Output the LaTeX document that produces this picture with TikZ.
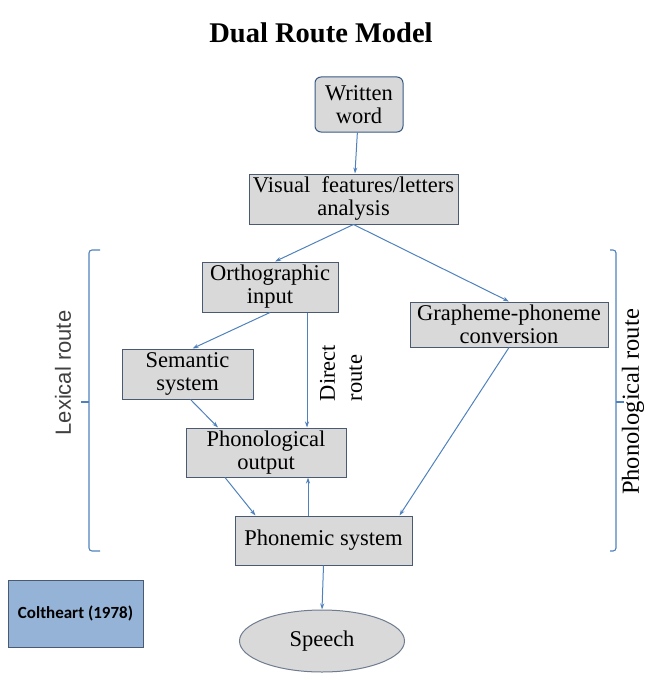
\documentclass[tikz,border=0pt]{standalone}
\usepackage{fontspec}
\setmainfont{Liberation Serif}
\newfontfamily\arialfont{Liberation Sans}
\newfontfamily\calibrifont{Carlito}
\usetikzlibrary{shapes.geometric,arrows.meta}
\definecolor{linkblue}{RGB}{79,129,189}
\definecolor{boxgray}{RGB}{217,217,217}
\definecolor{boxedge}{RGB}{75,90,115}
\definecolor{refblue}{RGB}{149,179,215}
\begin{document}
\begin{tikzpicture}[x=1pt, y=-1pt,
        stage/.style={rectangle, draw=boxedge, fill=boxgray, line width=1pt, inner sep=0pt, align=center, font=\fontsize{22.5}{23}\selectfont},
        arrow/.style={-{Stealth[length=6pt, width=4pt]}, linkblue, line width=1pt},
        bracket/.style={linkblue, line width=1.1pt, rounded corners=3pt}
    ]
        \useasboundingbox (0,0) rectangle (645,674);

        % Title
        \node[font=\fontsize{28.5}{32}\selectfont\bfseries] (title) at (321,33) {Dual Route Model};

        % Input side
        \node[stage, rounded corners=6pt, draw=linkblue!70!black, minimum width=88pt, minimum height=55pt] (written) at (359,104.5) {Written\\word};
        \node[stage, minimum width=209pt, minimum height=50pt] (visual) at (353.5,199) {Visual\ \ features/letters\\analysis};

        % Lexical route
        \node[stage, minimum width=136pt, minimum height=50pt] (ortho) at (270,287) {Orthographic\\input};
        \node[stage, minimum width=131pt, minimum height=50pt] (semantic) at (187.5,374) {Semantic\\system};
        \node[stage, minimum width=160pt, minimum height=49pt] (phonout) at (266,452.5) {Phonological\\output};

        % Phonological route
        \node[stage, minimum width=198pt, minimum height=45pt] (grapheme) at (509,324.5) {Grapheme-phoneme\\conversion};

        % Output side
        \node[stage, minimum width=177pt, minimum height=49pt] (phonemic) at (323.5,540.5) {Phonemic system};
        \node[stage, ellipse, draw=boxedge!80, minimum width=165pt, minimum height=62pt] (speech) at (322,641) {Speech};

        % Reference
        \node[rectangle, draw=boxedge, fill=refblue, line width=1pt, minimum width=135pt, minimum height=67pt, font=\calibrifont\fontsize{17}{20}\selectfont\bfseries] (ref) at (75.5,613.5) {Coltheart (1978)};

        % Route labels
        \node[rotate=90, font=\arialfont\fontsize{22}{26}\selectfont, text=black!75] (lexlabel) at (63,373) {Lexical route};
        \node[rotate=90, font=\fontsize{24.5}{28}\selectfont] (phonlabel) at (633,402) {Phonological route};
        \node[rotate=90, align=left, font=\fontsize{22.5}{27}\selectfont] (directlabel) at (341,373) {Direct\\route};

        % Brackets
        \draw[bracket] (100,250) -- (89,250) -- (89,551) -- (100,551);
        \draw[bracket] (89,402) -- (81,402);
        \draw[bracket] (610,250) -- (616,250) -- (616,551) -- (610,551);
        \draw[bracket] (616,402) -- (624,402);

        % Arrows
        \draw[arrow] (written) -- (visual);
        \draw[arrow] (visual.south) -- ([xshift=5pt]ortho.north);
        \draw[arrow] (visual.south) -- (grapheme.north);
        \draw[arrow] (ortho.south) -- ([xshift=5pt]semantic.north);
        \draw[arrow] ([xshift=37pt]ortho.south) -- ([xshift=37pt]ortho.south |- phonout.north);
        \draw[arrow] ([xshift=3pt]semantic.south) -- ([xshift=-48pt]phonout.north);
        \draw[arrow] (grapheme.south) -- ([xshift=76pt]phonemic.north);
        \draw[arrow] ([xshift=-41pt]phonout.south) -- ([xshift=-68pt]phonemic.north);
        \draw[arrow] ([xshift=-15.5pt]phonemic.north) -- ([xshift=-15.5pt]phonemic.north |- phonout.south);
        \draw[arrow] (phonemic.south) -- (speech.north);
    \end{tikzpicture}
\end{document}
